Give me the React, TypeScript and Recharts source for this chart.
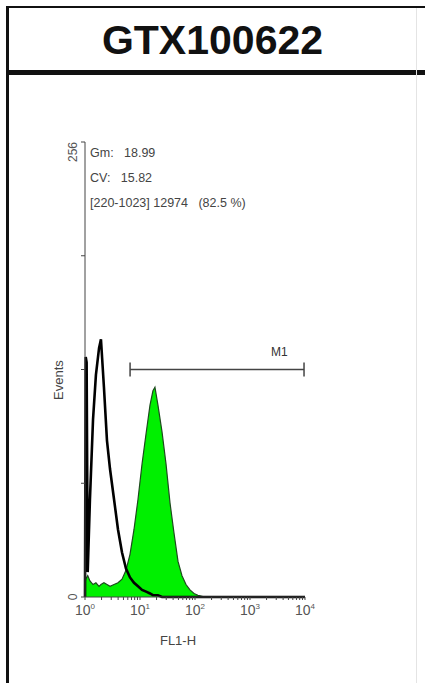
import {
  Area,
  ComposedChart,
  Line,
  ReferenceLine,
  XAxis,
  YAxis,
} from "recharts";

// FL1-H channel values (log axis) shared by both histograms
const fl1 = [
  1, 1.03, 1.07, 1.12, 1.23, 1.4, 1.58, 1.8, 1.95, 2.21, 2.51, 2.85, 3.37,
  3.98, 4.71, 5.56, 6.58, 7.78, 9.2, 10.9, 12.9, 15.2, 17.2, 18.7, 21.2, 25.1,
  29.7, 35.1, 41.5, 49.1, 58, 68.6, 81.1, 95.9, 113, 151, 300, 1000, 3000,
  10000,
];
// antibody-stained cells (green filled histogram)
const stained = [
  8, 10, 11, 12, 9, 7, 8, 6, 7, 8, 7, 6, 7, 8, 10, 15, 24, 38, 55, 75, 92, 108,
  116, 118, 108, 93, 75, 53, 36, 20, 12, 7, 4, 2, 1, 0, 0, 0, 0, 0,
];
// isotype control (black outline)
const control = [
  0, 135, 132, 14, 55, 100, 125, 140, 145, 118, 88, 72, 55, 38, 25, 16, 11, 8,
  6, 4, 3, 2, 1, 1, 1, 0, 0, 0, 0, 0, 0, 0, 0, 0, 0, 0, 0, 0, 0, 0,
];

const decadeTicks = [1, 10, 100, 1000, 10000];
const minorTicks = [
  2, 3, 4, 5, 6, 7, 8, 9, 20, 30, 40, 50, 60, 70, 80, 90, 200, 300, 400, 500,
  600, 700, 800, 900, 2000, 3000, 4000, 5000, 6000, 7000, 8000, 9000,
];
const yTicks = [0, 64, 128, 192, 256];

const markerRange = [6.6, 9600];
const markerCount = 128;

const statLines = ["Gm:   18.99", "CV:   15.82", "[220-1023] 12974   (82.5 %)"];

const data = fl1.map((x, i) => ({ x, g: stained[i], c: control[i] }));

const FONT = '"Liberation Sans", Arial, sans-serif';

function XTick({ x, y, payload }: any) {
  const v = payload.value as number;
  const lg = Math.log10(v);
  const exp = Math.round(lg);
  if (Math.abs(lg - exp) > 1e-6) return null;
  return (
    <text x={x} y={y + 13} textAnchor="middle" fill="#555" fontSize={14} fontFamily={FONT}>
      <tspan>10</tspan>
      <tspan dy={-6} fontSize={8}>
        {exp}
      </tspan>
    </text>
  );
}

function YTick({ x, y, payload }: any) {
  const v = payload.value as number;
  if (v !== 0 && v !== 256) return null;
  return (
    <text
      x={x - 2}
      y={y}
      transform={`rotate(-90 ${x - 2} ${y})`}
      textAnchor={v === 0 ? "middle" : "end"}
      fill="#555"
      fontSize={12}
      fontFamily={FONT}
    >
      {v}
    </text>
  );
}

export default function App() {
  return (
    <div
      style={{
        position: "absolute",
        left: 0,
        top: 0,
        width: 425,
        height: 683,
        background: "#fff",
        fontFamily: FONT,
        overflow: "hidden",
      }}
    >
      {/* frame */}
      <div style={{ position: "absolute", left: 6, top: 6, width: 3, height: 677, background: "#111" }} />
      <div style={{ position: "absolute", left: 6, top: 6, width: 419, height: 2, background: "#111" }} />
      <div style={{ position: "absolute", left: 6, top: 70, width: 419, height: 5, background: "#111" }} />
      <div style={{ position: "absolute", left: 416, top: 8, width: 1, height: 675, background: "#e4e4e4" }} />
      <div
        style={{
          position: "absolute",
          left: 9,
          top: 9,
          width: 407,
          height: 62,
          lineHeight: "62px",
          textAlign: "center",
          fontSize: 41,
          fontWeight: "bold",
          color: "#111",
        }}
      >
        GTX100622
      </div>

      <div style={{ position: "absolute", left: 0, top: 0 }}>
        <ComposedChart
          width={425}
          height={683}
          data={data}
          margin={{ top: 142, right: 120, bottom: 56, left: 55 }}
        >
          <XAxis
            dataKey="x"
            type="number"
            scale="log"
            domain={[1, 10000]}
            ticks={[...decadeTicks, ...minorTicks]}
            interval={0}
            tick={<XTick />}
            tickSize={3}
            height={30}
            stroke="#444"
          />
          <YAxis
            type="number"
            domain={[0, 256]}
            ticks={yTicks}
            tick={<YTick />}
            tickSize={4}
            width={30}
            stroke="#444"
          />
          <Area
            dataKey="g"
            type="linear"
            fill="#00f000"
            fillOpacity={1}
            stroke="#1d4a1d"
            strokeWidth={1.2}
            isAnimationActive={false}
          />
          <Line
            dataKey="c"
            type="linear"
            stroke="#000"
            strokeWidth={2.6}
            dot={false}
            isAnimationActive={false}
          />
          <ReferenceLine
            segment={[
              { x: markerRange[0], y: markerCount },
              { x: markerRange[1], y: markerCount },
            ]}
            stroke="#444"
            strokeWidth={1.5}
          />
          <ReferenceLine
            segment={[
              { x: markerRange[0], y: markerCount - 4 },
              { x: markerRange[0], y: markerCount + 4 },
            ]}
            stroke="#444"
            strokeWidth={1.5}
          />
          <ReferenceLine
            segment={[
              { x: markerRange[1], y: markerCount - 4 },
              { x: markerRange[1], y: markerCount + 4 },
            ]}
            stroke="#444"
            strokeWidth={1.5}
          />
        </ComposedChart>
      </div>

      {/* statistics */}
      {statLines.map((s, i) => (
        <div
          key={s}
          style={{
            position: "absolute",
            left: 90,
            top: 146 + i * 25,
            fontSize: 12.5,
            color: "#444",
            whiteSpace: "pre",
          }}
        >
          {s}
        </div>
      ))}
      <div style={{ position: "absolute", left: 271, top: 345, fontSize: 12, color: "#333" }}>M1</div>
      <div
        style={{
          position: "absolute",
          left: 58,
          top: 380,
          transform: "translate(-50%, -50%) rotate(-90deg)",
          fontSize: 13,
          color: "#444",
        }}
      >
        Events
      </div>
      <div
        style={{
          position: "absolute",
          left: 178,
          top: 640,
          transform: "translate(-50%, -50%)",
          fontSize: 13,
          color: "#444",
        }}
      >
        FL1-H
      </div>
    </div>
  );
}
